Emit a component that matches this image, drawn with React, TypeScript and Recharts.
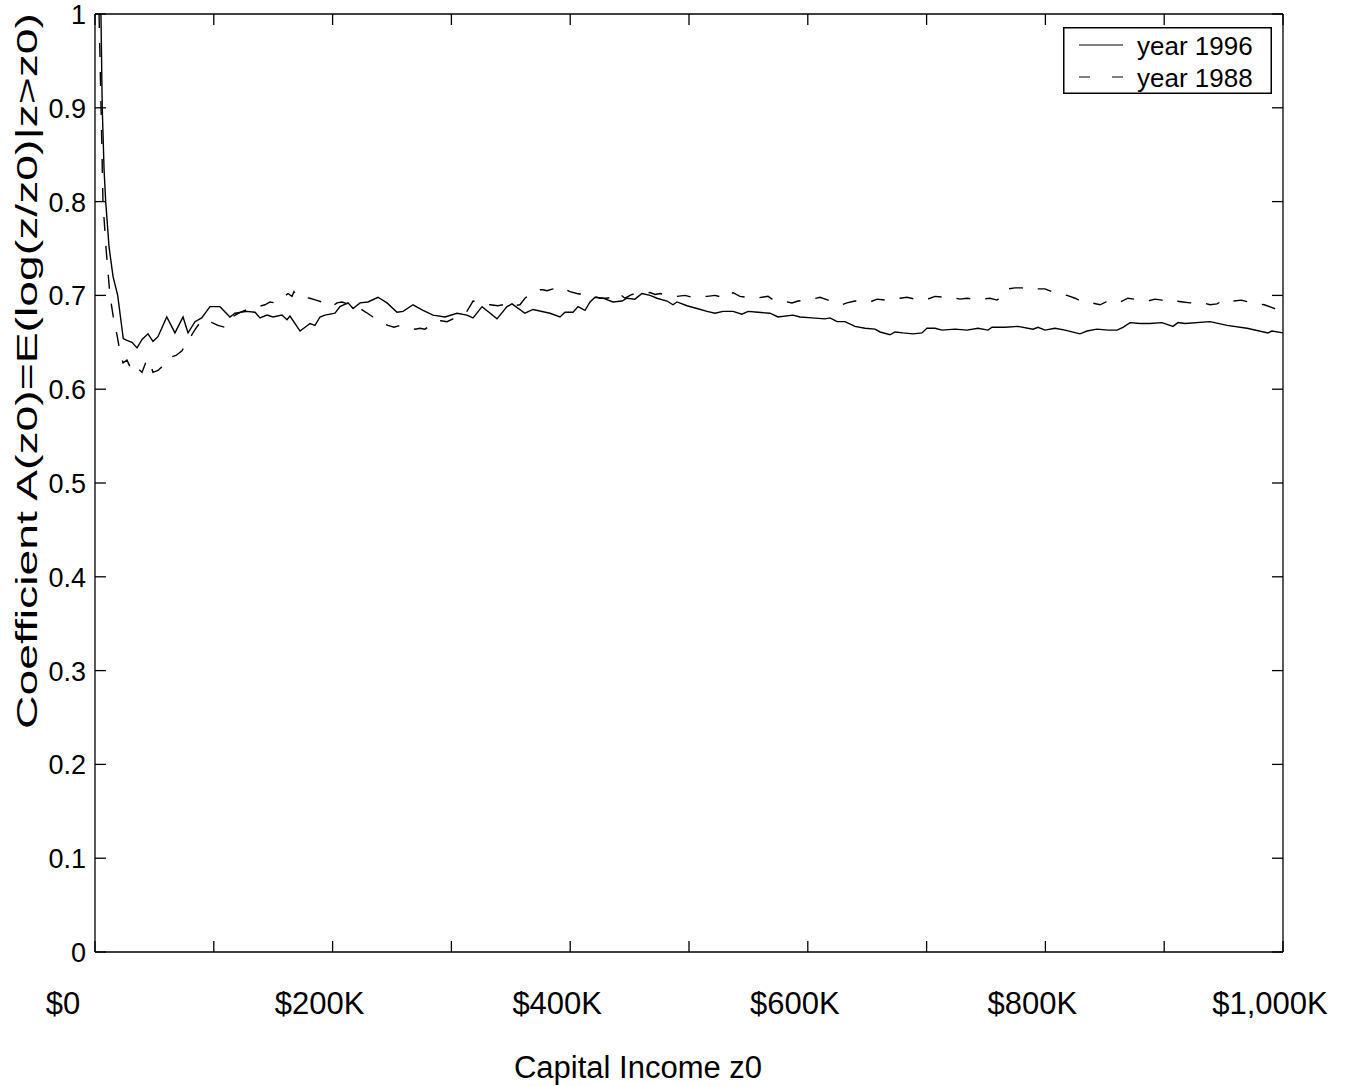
import React from "react";
import { LineChart, Line, XAxis, YAxis, Legend, Label } from "recharts";

// capital income threshold z0 (thousands of $) and coefficient A(z0), year 1996
const income1996 = [
  5, 6.1, 7.6, 9, 11.8, 15.2, 19.1, 23.8, 26.9, 31.1, 35.4, 39.6, 44.6, 48.8, 53, 60.4,
  67.3, 74.1, 78.3, 84.2, 89.8, 96.8, 105.2, 113.6, 117.8, 127.7, 134.7, 138.9, 144.8,
  149.8, 157.4, 161.6, 164.1, 172.6, 181, 185.2, 189.4, 193.6, 202, 206.2, 213, 217.2,
  223.1, 229.8, 238.2, 245.8, 254.2, 259.3, 267.7, 276.1, 284.5, 294.6, 304.7, 313.1,
  318.2, 325.8, 338.4, 346.8, 351, 361.9, 368.7, 383, 391.4, 395.6, 402.4, 406.6, 412.5,
  416.7, 420.9, 427.6, 436, 443.6, 447.8, 454.5, 460.4, 467.2, 473.1, 481.5, 486.5,
  489.9, 498.3, 506.7, 515.2, 521.9, 528.6, 537, 544.6, 549.7, 558.1, 568.2, 574.9,
  587.5, 593.4, 603.5, 614.5, 618.7, 624.6, 631.3, 639.7, 648.1, 656.6, 660.8, 669.2,
  673.4, 680.1, 688.6, 696.1, 700.3, 707.1, 713, 723.9, 734, 743.3, 751.7, 755.1, 766,
  776.9, 789.6, 793.8, 799.7, 808.1, 816.5, 829.1, 835, 843.4, 852.7, 860.3, 865.3,
  871.2, 879.6, 888, 898.1, 907.4, 911.6, 917.5, 938.6, 952.9, 969.7, 987.4, 990.7, 1000,
];
const coef1996 = [
  1.0, 0.9, 0.835, 0.8, 0.752, 0.72, 0.7, 0.654, 0.652, 0.65, 0.644, 0.653, 0.659, 0.651,
  0.656, 0.677, 0.66, 0.677, 0.66, 0.672, 0.676, 0.688, 0.688, 0.677, 0.681, 0.683, 0.682,
  0.676, 0.679, 0.677, 0.679, 0.674, 0.678, 0.662, 0.67, 0.668, 0.677, 0.679, 0.681,
  0.688, 0.692, 0.686, 0.692, 0.693, 0.698, 0.692, 0.682, 0.683, 0.69, 0.684, 0.679,
  0.677, 0.681, 0.679, 0.676, 0.688, 0.675, 0.688, 0.691, 0.681, 0.685, 0.681, 0.677,
  0.682, 0.682, 0.688, 0.684, 0.693, 0.698, 0.697, 0.693, 0.694, 0.697, 0.696, 0.702,
  0.7, 0.697, 0.694, 0.69, 0.693, 0.689, 0.686, 0.683, 0.681, 0.683, 0.683, 0.68, 0.683,
  0.682, 0.681, 0.677, 0.679, 0.677, 0.676, 0.675, 0.676, 0.672, 0.672, 0.667, 0.665,
  0.664, 0.661, 0.658, 0.661, 0.66, 0.659, 0.66, 0.665, 0.665, 0.663, 0.664, 0.663,
  0.665, 0.663, 0.666, 0.666, 0.667, 0.664, 0.666, 0.663, 0.665, 0.663, 0.659, 0.662,
  0.664, 0.663, 0.663, 0.666, 0.671, 0.67, 0.67, 0.671, 0.667, 0.671, 0.67, 0.672, 0.668,
  0.665, 0.66, 0.662, 0.66,
];

// year 1988
const income1988 = [
  3.4, 5.1, 6.7, 9.3, 12.6, 16, 18.5, 21, 23.6, 26.9, 29.5, 32, 36.2, 39.6, 43.8, 46.3,
  48.8, 53, 56.4, 59.8, 63.1, 68.2, 73.2, 80, 85, 90.1, 94.3, 98.5, 103.5, 109.4, 112,
  115.3, 122.1, 130.5, 137.2, 143.1, 147.3, 151.5, 156.6, 162.5, 165.8, 167.5, 170,
  175.1, 181, 186, 191.1, 195.3, 199.5, 203.7, 207.9, 214.6, 223.1, 228.1, 234, 239.9,
  246.6, 251.7, 256.7, 263.5, 269.4, 273.6, 277.8, 282, 286.2, 291.2, 296.3, 301.3,
  307.2, 313.1, 318.2, 322.4, 326.6, 332.5, 339.2, 343.4, 346.8, 351.9, 357.7, 361.9,
  367, 372.1, 377.1, 380.5, 385.5, 389.7, 394.8, 399.8, 405.7, 409.9, 415, 420, 425.1,
  430.1, 435.2, 440.2, 446.1, 452, 456.2, 461.3, 467.2, 471.4, 475.6, 482.3, 489.9,
  496.6, 502.5, 509.3, 515.2, 521.9, 527.8, 532.8, 537, 542.9, 548.8, 555.6, 561.4,
  566.5, 572.4, 579.1, 586.7, 591.8, 597.6, 603.5, 610.3, 617, 622.9, 628.8, 633, 639.7,
  646.5, 652.4, 658.2, 665, 670.9, 677.6, 683.5, 690.2, 697, 702.9, 707.1, 715.5, 721.4,
  728.1, 734, 740.7, 746.6, 753.4, 759.3, 764.3, 768.5, 774.4, 780.3, 787, 793.8, 799.7,
  805.6, 812.3, 818.2, 825, 831.6, 839.2, 846, 851, 856.9, 862.8, 869.5, 874.6, 879.6,
  886.4, 892.3, 898.1, 903.2, 909.1, 915.8, 921.7, 930.1, 938.6, 944.4, 948.7, 952.9,
  958.8, 964.8, 970.7, 975.8, 984.2, 990.9, 996.8, 1000,
];
const coef1988 = [
  1.0, 0.9, 0.8, 0.75, 0.7, 0.672, 0.658, 0.64, 0.628, 0.631, 0.624, 0.618, 0.622, 0.618,
  0.632, 0.628, 0.618, 0.62, 0.624, 0.63, 0.634, 0.636, 0.641, 0.655, 0.665, 0.674,
  0.673, 0.671, 0.668, 0.666, 0.672, 0.677, 0.682, 0.686, 0.688, 0.69, 0.693, 0.692,
  0.696, 0.702, 0.699, 0.704, 0.699, 0.698, 0.697, 0.695, 0.693, 0.69, 0.688, 0.692,
  0.693, 0.69, 0.686, 0.682, 0.677, 0.672, 0.668, 0.666, 0.668, 0.666, 0.664, 0.665,
  0.664, 0.668, 0.672, 0.673, 0.672, 0.675, 0.679, 0.683, 0.694, 0.693, 0.691, 0.69,
  0.689, 0.69, 0.687, 0.689, 0.69, 0.697, 0.702, 0.706, 0.706, 0.705, 0.707, 0.709,
  0.707, 0.704, 0.702, 0.701, 0.7, 0.699, 0.697, 0.697, 0.698, 0.703, 0.697, 0.701,
  0.702, 0.702, 0.703, 0.701, 0.702, 0.7, 0.699, 0.7, 0.698, 0.699, 0.699, 0.7, 0.698,
  0.697, 0.703, 0.699, 0.698, 0.697, 0.698, 0.699, 0.694, 0.694, 0.692, 0.694, 0.695,
  0.696, 0.698, 0.695, 0.693, 0.69, 0.692, 0.694, 0.694, 0.693, 0.696, 0.695, 0.696,
  0.697, 0.698, 0.696, 0.695, 0.697, 0.699, 0.698, 0.698, 0.696, 0.697, 0.696, 0.696,
  0.697, 0.695, 0.7, 0.707, 0.708, 0.708, 0.706, 0.707, 0.707, 0.704, 0.702, 0.7, 0.697,
  0.693, 0.692, 0.69, 0.693, 0.691, 0.693, 0.697, 0.696, 0.695, 0.694, 0.696, 0.695,
  0.693, 0.694, 0.693, 0.692, 0.693, 0.69, 0.691, 0.694, 0.696, 0.694, 0.695, 0.693,
  0.692, 0.69, 0.687, 0.684, 0.682,
];

const xTicks = [0, 100, 200, 300, 400, 500, 600, 700, 800, 900, 1000];
const xTickLabels = ["$0", "", "$200K", "", "$400K", "", "$600K", "", "$800K", "", "$1,000K"];
const yTicks = [0, 0.1, 0.2, 0.3, 0.4, 0.5, 0.6, 0.7, 0.8, 0.9, 1];
const yTickLabels = ["0", "0.1", "0.2", "0.3", "0.4", "0.5", "0.6", "0.7", "0.8", "0.9", "1"];
const seriesNames = ["year 1996", "year 1988"];

const data1996 = income1996.map((z, i) => ({ z, a: coef1996[i] }));
const data1988 = income1988.map((z, i) => ({ z, a: coef1988[i] }));

const FONT = "'Liberation Sans', Arial, Helvetica, sans-serif";

const XTick = (props: any) => {
  const { x, payload } = props;
  const idx = xTicks.indexOf(payload.value);
  const label = xTickLabels[idx] ?? "";
  const dx = payload.value === 0 ? -32 : -13;
  return (
    <text x={x + dx} y={1014} textAnchor="middle" fontSize={31} fontFamily={FONT} fill="#000">
      {label}
    </text>
  );
};

const YTick = (props: any) => {
  const { y, payload } = props;
  const idx = yTicks.findIndex((t) => Math.abs(t - payload.value) < 1e-9);
  return (
    <text x={86} y={y + 10} textAnchor="end" fontSize={27} fontFamily={FONT} fill="#000">
      {yTickLabels[idx] ?? ""}
    </text>
  );
};

// top / right axes only carry tick marks, no labels
const NoLabel = () => <g />;

const renderLegend = () => (
  <svg width={210} height={68} style={{ display: "block", overflow: "visible" }}>
    <rect x={0.75} y={0.75} width={207.5} height={65.5} fill="#fff" stroke="#000" strokeWidth={1.5} />
    <line x1={16} x2={60} y1={18} y2={18} stroke="#000" strokeWidth={1.2} />
    <text x={74} y={28} fontSize={26} fontFamily={FONT} fill="#000">{seriesNames[0]}</text>
    <line x1={16} x2={60} y1={50} y2={50} stroke="#000" strokeWidth={1.2} strokeDasharray="11 22" />
    <text x={74} y={60} fontSize={26} fontFamily={FONT} fill="#000">{seriesNames[1]}</text>
  </svg>
);

export default function App() {
  return (
    <div style={{ position: "absolute", left: 0, top: 0, width: 1352, height: 1086, background: "#fff" }}>
      <LineChart
        width={1352}
        height={1086}
        margin={{ top: 13, right: 68, bottom: 74, left: 35 }}
      >
        <XAxis
          dataKey="z"
          type="number"
          domain={[0, 1000]}
          ticks={xTicks}
          allowDataOverflow
          height={60}
          tickSize={-11}
          tickMargin={0}
          tick={<XTick />}
          stroke="#000"
          strokeWidth={1.3}
        >
          <Label
            content={() => (
              <text x={638} y={1078} textAnchor="middle" fontSize={31} fontFamily={FONT} fill="#000">
                Capital Income z0
              </text>
            )}
          />
        </XAxis>
        <XAxis
          xAxisId="top"
          orientation="top"
          dataKey="z"
          type="number"
          domain={[0, 1000]}
          ticks={xTicks}
          allowDataOverflow
          height={1}
          tickSize={-11}
          tick={<NoLabel />}
          stroke="#000"
          strokeWidth={1.3}
        />
        <YAxis
          type="number"
          domain={[0, 1]}
          ticks={yTicks}
          allowDataOverflow
          width={60}
          tickSize={-11}
          tickMargin={0}
          tick={<YTick />}
          stroke="#000"
          strokeWidth={1.3}
        >
          <Label
            content={() => (
              <text
                x={37}
                y={371}
                transform="rotate(-90 37 371)"
                textAnchor="middle"
                textLength={716}
                lengthAdjust="spacingAndGlyphs"
                fontSize={30}
                fontFamily={FONT}
                fill="#000"
              >
                Coefficient A(z0)=E(log(z/z0)|z&gt;z0)
              </text>
            )}
          />
        </YAxis>
        <YAxis
          yAxisId="right"
          orientation="right"
          type="number"
          domain={[0, 1]}
          ticks={yTicks}
          allowDataOverflow
          width={1}
          tickSize={-11}
          tick={<NoLabel />}
          stroke="#000"
          strokeWidth={1.3}
        />
        <Legend
          layout="horizontal"
          align="center"
          verticalAlign="middle"
          content={renderLegend}
          wrapperStyle={{ position: "absolute", left: 1063, top: 27, width: 210, height: 68 }}
        />
        <Line
          data={data1996}
          dataKey="a"
          name={seriesNames[0]}
          type="linear"
          stroke="#000"
          strokeWidth={1.4}
          dot={false}
          isAnimationActive={false}
        />
        <Line
          data={data1988}
          xAxisId="top"
          yAxisId="right"
          dataKey="a"
          name={seriesNames[1]}
          type="linear"
          stroke="#000"
          strokeWidth={1.4}
          strokeDasharray="14 15"
          dot={false}
          isAnimationActive={false}
        />
      </LineChart>
    </div>
  );
}
